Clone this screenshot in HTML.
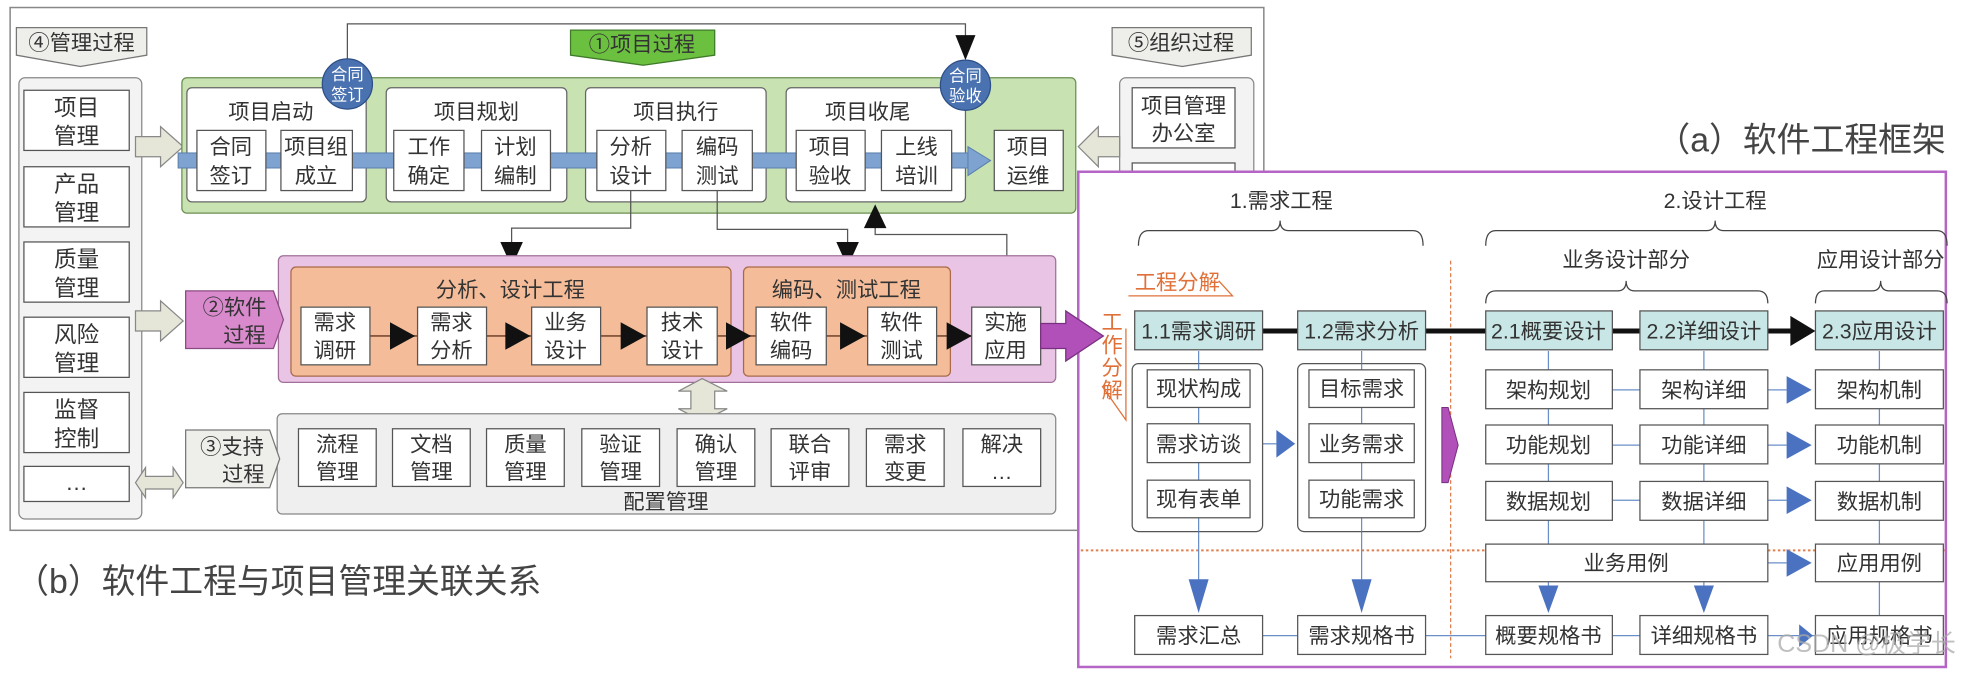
<!DOCTYPE html>
<html><head><meta charset="utf-8">
<style>
html,body{margin:0;padding:0;background:#fff;}
svg{display:block;}
text{font-family:"Liberation Sans","Noto Sans CJK SC",sans-serif;fill:#333;}
</style></head>
<body>
<svg width="1966" height="677" viewBox="0 0 1568 540" xmlns="http://www.w3.org/2000/svg">
<rect x="0" y="0" width="1568" height="540" fill="#fff"/>
<rect x="8" y="6" width="1000" height="417" fill="#fff" stroke="#888" stroke-width="1.2"/>

<polyline points="277,50 277,19 770,19 770,30" fill="none" stroke="#555" stroke-width="1"/>
<polygon points="762,28 778,28 770,48" fill="#111"/>

<polygon points="13,22 117,22 117,44 64,53 13,44" fill="#eeeeea" stroke="#777"/>
<text x="65" y="40" font-size="17" text-anchor="middle">④管理过程</text>
<polygon points="455,24 570,24 570,44 513,52 455,44" fill="#6cc040" stroke="#3f7a2a"/>
<text x="512" y="41" font-size="17" text-anchor="middle">①项目过程</text>
<polygon points="887,22 998,22 998,44 943,53 887,44" fill="#eeeeea" stroke="#777"/>
<text x="942" y="40" font-size="17" text-anchor="middle">⑤组织过程</text>

<rect x="15" y="62" width="98" height="352" rx="5" fill="#f3f3f3" stroke="#888"/>
<g fill="#fff" stroke="#555">
<rect x="19" y="72" width="84" height="48"/>
<rect x="19" y="133" width="84" height="48"/>
<rect x="19" y="193" width="84" height="48"/>
<rect x="19" y="253" width="84" height="48"/>
<rect x="19" y="313" width="84" height="48"/>
<rect x="19" y="372" width="84" height="28"/>
</g>
<g font-size="18" text-anchor="middle">
<text x="61" y="92">项目</text><text x="61" y="115">管理</text>
<text x="61" y="153">产品</text><text x="61" y="176">管理</text>
<text x="61" y="213">质量</text><text x="61" y="236">管理</text>
<text x="61" y="273">风险</text><text x="61" y="296">管理</text>
<text x="61" y="333">监督</text><text x="61" y="356">控制</text>
<text x="61" y="391">…</text>
</g>

<g fill="#e6e6d8" stroke="#888">
<polygon points="108,109 128,109 128,101 146,117 128,133 128,125 108,125"/>
<polygon points="108,248 128,248 128,240 146,256 128,272 128,264 108,264"/>
<polygon points="108,385 116,373 116,380 138,380 138,373 146,385 138,397 138,390 116,390 116,397"/>
</g>

<rect x="145" y="62" width="713" height="108" rx="4" fill="#c8e2b2" stroke="#6a8f50"/>
<g fill="#fff" stroke="#666">
<rect x="149" y="70" width="143" height="91" rx="4"/>
<rect x="308" y="70" width="144" height="91" rx="4"/>
<rect x="467" y="70" width="144" height="91" rx="4"/>
<rect x="627" y="70" width="143" height="91" rx="4"/>
</g>
<g font-size="17" text-anchor="middle">
<text x="216" y="95">项目启动</text>
<text x="380" y="95">项目规划</text>
<text x="539" y="95">项目执行</text>
<text x="692" y="95">项目收尾</text>
</g>
<rect x="142" y="122" width="632" height="12" fill="#7ea3d0" stroke="#5a7fae" stroke-width="0.8"/>
<polygon points="772,117 790,128 772,140" fill="#7ea3d0" stroke="#5a7fae" stroke-width="0.8"/>
<g fill="#fff" stroke="#555">
<rect x="157" y="104" width="55" height="48"/>
<rect x="224" y="104" width="57" height="48"/>
<rect x="314" y="104" width="56" height="48"/>
<rect x="384" y="104" width="55" height="48"/>
<rect x="476" y="104" width="55" height="48"/>
<rect x="544" y="104" width="56" height="48"/>
<rect x="635" y="104" width="55" height="48"/>
<rect x="703" y="104" width="56" height="48"/>
<rect x="793" y="104" width="55" height="48"/>
</g>
<g font-size="17" text-anchor="middle">
<text x="184" y="123">合同</text><text x="184" y="146">签订</text>
<text x="252" y="123">项目组</text><text x="252" y="146">成立</text>
<text x="342" y="123">工作</text><text x="342" y="146">确定</text>
<text x="411" y="123">计划</text><text x="411" y="146">编制</text>
<text x="503" y="123">分析</text><text x="503" y="146">设计</text>
<text x="572" y="123">编码</text><text x="572" y="146">测试</text>
<text x="662" y="123">项目</text><text x="662" y="146">验收</text>
<text x="731" y="123">上线</text><text x="731" y="146">培训</text>
<text x="820" y="123">项目</text><text x="820" y="146">运维</text>
</g>
<circle cx="277" cy="67" r="20" fill="#4a72b0" stroke="#2d4f86"/>
<circle cx="770" cy="68" r="20" fill="#4a72b0" stroke="#2d4f86"/>
<g font-size="13" text-anchor="middle">
<text x="277" y="64" style="fill:#fff">合同</text><text x="277" y="80" style="fill:#fff">签订</text>
<text x="770" y="65" style="fill:#fff">合同</text><text x="770" y="81" style="fill:#fff">验收</text>
</g>

<rect x="893" y="62" width="107" height="80" rx="5" fill="#f3f3f3" stroke="#888"/>
<rect x="903" y="70" width="82" height="48" fill="#fff" stroke="#555"/>
<rect x="903" y="130" width="82" height="20" fill="#fff" stroke="#555"/>
<text x="944" y="90" font-size="17" text-anchor="middle">项目管理</text>
<text x="944" y="112" font-size="17" text-anchor="middle">办公室</text>
<polygon points="893,109 876,109 876,101 860,117 876,133 876,125 893,125" fill="#e6e6d8" stroke="#888"/>

<g fill="none" stroke="#555" stroke-width="1">
<polyline points="503,152 503,182 408,182 408,195"/>
<polyline points="572,152 572,183 676,183 676,195"/>
<polyline points="803,245 803,187 698,187 698,180"/>
</g>
<polygon points="399,193 417,193 408,213" fill="#111"/>
<polygon points="667,193 685,193 676,213" fill="#111"/>
<polygon points="689,182 707,182 698,163" fill="#111"/>

<rect x="222" y="204" width="620" height="101" rx="4" fill="#e9c4e4" stroke="#a0709a"/>
<rect x="232" y="213" width="351" height="87" rx="4" fill="#f4bc98" stroke="#a86a4a"/>
<rect x="593" y="213" width="165" height="87" rx="4" fill="#f4bc98" stroke="#a86a4a"/>
<text x="407" y="237" font-size="17" text-anchor="middle">分析、设计工程</text>
<text x="675" y="237" font-size="17" text-anchor="middle">编码、测试工程</text>
<line x1="295" y1="268" x2="775" y2="268" stroke="#8a5a40" stroke-width="1.5"/>
<g fill="#111">
<polygon points="311,257 331,268 311,279"/>
<polygon points="403,257 423,268 403,279"/>
<polygon points="495,257 515,268 495,279"/>
<polygon points="579,257 599,268 579,279"/>
<polygon points="670,257 690,268 670,279"/>
<polygon points="755,257 775,268 755,279"/>
</g>
<g fill="#fff" stroke="#555">
<rect x="240" y="245" width="55" height="46"/>
<rect x="333" y="245" width="55" height="46"/>
<rect x="424" y="245" width="55" height="46"/>
<rect x="516" y="245" width="56" height="46"/>
<rect x="603" y="245" width="56" height="46"/>
<rect x="692" y="245" width="55" height="46"/>
<rect x="775" y="245" width="55" height="46"/>
</g>
<g font-size="17" text-anchor="middle">
<text x="267" y="263">需求</text><text x="267" y="285">调研</text>
<text x="360" y="263">需求</text><text x="360" y="285">分析</text>
<text x="451" y="263">业务</text><text x="451" y="285">设计</text>
<text x="544" y="263">技术</text><text x="544" y="285">设计</text>
<text x="631" y="263">软件</text><text x="631" y="285">编码</text>
<text x="719" y="263">软件</text><text x="719" y="285">测试</text>
<text x="802" y="263">实施</text><text x="802" y="285">应用</text>
</g>
<polygon points="148,232 218,232 226,255 218,278 148,278" fill="#d98acd" stroke="#8a4a80"/>
<text x="187" y="251" font-size="17" text-anchor="middle">②软件</text>
<text x="195" y="273" font-size="17" text-anchor="middle">过程</text>

<polygon points="560,302 580,312 570,312 570,326 580,326 560,336 541,326 551,326 551,312 541,312" fill="#e6e6d8" stroke="#888"/>

<rect x="221" y="330" width="621" height="80" rx="4" fill="#efefef" stroke="#888"/>
<g fill="#fff" stroke="#555">
<rect x="238" y="342" width="62" height="46"/>
<rect x="313" y="342" width="62" height="46"/>
<rect x="388" y="342" width="62" height="46"/>
<rect x="464" y="342" width="62" height="46"/>
<rect x="540" y="342" width="62" height="46"/>
<rect x="615" y="342" width="62" height="46"/>
<rect x="691" y="342" width="62" height="46"/>
<rect x="768" y="342" width="62" height="46"/>
</g>
<g font-size="17" text-anchor="middle">
<text x="269" y="360">流程</text><text x="269" y="382">管理</text>
<text x="344" y="360">文档</text><text x="344" y="382">管理</text>
<text x="419" y="360">质量</text><text x="419" y="382">管理</text>
<text x="495" y="360">验证</text><text x="495" y="382">管理</text>
<text x="571" y="360">确认</text><text x="571" y="382">管理</text>
<text x="646" y="360">联合</text><text x="646" y="382">评审</text>
<text x="722" y="360">需求</text><text x="722" y="382">变更</text>
<text x="799" y="360">解决</text><text x="799" y="382">…</text>
<text x="531" y="406">配置管理</text>
</g>
<polygon points="148,343 215,343 223,366 215,389 148,389" fill="#eeeeea" stroke="#777"/>
<text x="185" y="362" font-size="17" text-anchor="middle">③支持</text>
<text x="194" y="384" font-size="17" text-anchor="middle">过程</text>

<text x="12" y="473" font-size="27" style="fill:#444">（b）软件工程与项目管理关联关系</text>
<text x="1552" y="121" font-size="27" text-anchor="end" style="fill:#444">（a）软件工程框架</text>

<rect x="860" y="137" width="692" height="395" fill="#fff" stroke="#b565c5" stroke-width="2"/>
<polygon points="830,258 850,258 850,248 880,268 850,288 850,278 830,278" fill="#b050b8" stroke="#7a3080"/>

<g font-size="17" text-anchor="middle">
<text x="1022" y="166">1.需求工程</text>
<text x="1368" y="166">2.设计工程</text>
<text x="1297" y="213">业务设计部分</text>
<text x="1500" y="213">应用设计部分</text>
</g>
<g fill="none" stroke="#444" stroke-width="1">
<path d="M908,196 Q908,184 916,184 L1014,184 Q1021,184 1021,176 Q1021,184 1028,184 L1127,184 Q1135,184 1135,196"/>
<path d="M1185,196 Q1185,184 1193,184 L1361,184 Q1368,184 1368,176 Q1368,184 1375,184 L1545,184 Q1553,184 1553,196"/>
<path d="M1185,242 Q1185,232 1193,232 L1290,232 Q1297,232 1297,224 Q1297,232 1304,232 L1402,232 Q1410,232 1410,242"/>
<path d="M1448,242 Q1448,232 1455,232 L1493,232 Q1500,232 1500,224 Q1500,232 1507,232 L1545,232 Q1553,232 1553,242"/>
</g>
<line x1="1157" y1="208" x2="1157" y2="525" stroke="#e08050" stroke-width="1" stroke-dasharray="3,2"/>
<line x1="862" y1="439" x2="1551" y2="439" stroke="#e08050" stroke-width="1.5" stroke-dasharray="2,2"/>
<text x="905" y="231" font-size="17" style="fill:#e07038">工程分解</text>
<polyline points="900,236 983,236 972,224" fill="none" stroke="#e07038" stroke-width="1"/>
<g font-size="17" text-anchor="middle">
<text x="887" y="263" style="fill:#e07038">工</text>
<text x="887" y="281" style="fill:#e07038">作</text>
<text x="887" y="299" style="fill:#e07038">分</text>
<text x="887" y="317" style="fill:#e07038">解</text>
</g>
<polyline points="879,308 898,335 898,262" fill="none" stroke="#e07038" stroke-width="1"/>

<g stroke="#6a8fc8" stroke-width="1" fill="none">
<line x1="956" y1="280" x2="956" y2="470"/>
<line x1="1086" y1="280" x2="1086" y2="470"/>
<line x1="1235" y1="280" x2="1235" y2="434"/>
<line x1="1359" y1="280" x2="1359" y2="434"/>
<line x1="1499" y1="280" x2="1499" y2="491"/>
<line x1="1235" y1="463" x2="1235" y2="470"/>
<line x1="1359" y1="463" x2="1359" y2="470"/>
<line x1="1007" y1="507" x2="1448" y2="507"/>
<line x1="1286" y1="311" x2="1308" y2="311"/>
<line x1="1286" y1="355" x2="1308" y2="355"/>
<line x1="1286" y1="399" x2="1308" y2="399"/>
<line x1="1410" y1="311" x2="1425" y2="311"/>
<line x1="1410" y1="355" x2="1425" y2="355"/>
<line x1="1410" y1="399" x2="1425" y2="399"/>
<line x1="1410" y1="449" x2="1425" y2="449"/>
<line x1="1007" y1="354" x2="1018" y2="354"/>
</g>
<line x1="1007" y1="264" x2="1430" y2="264" stroke="#111" stroke-width="4"/>
<polygon points="1428,252 1448,264 1428,276" fill="#111"/>

<rect x="903" y="290" width="104" height="134" rx="5" fill="#fff" stroke="#555"/>
<rect x="1035" y="290" width="102" height="134" rx="5" fill="#fff" stroke="#555"/>
<line x1="956" y1="290" x2="956" y2="424" stroke="#6a8fc8"/>
<line x1="1086" y1="290" x2="1086" y2="424" stroke="#6a8fc8"/>

<g fill="#c9e6e6" stroke="#555">
<rect x="905" y="248" width="102" height="31"/>
<rect x="1035" y="248" width="102" height="31"/>
<rect x="1185" y="248" width="101" height="31"/>
<rect x="1308" y="248" width="102" height="31"/>
<rect x="1448" y="248" width="102" height="31"/>
</g>
<g fill="#fff" stroke="#555">
<rect x="915" y="295" width="82" height="30"/>
<rect x="915" y="338" width="82" height="31"/>
<rect x="915" y="383" width="82" height="30"/>
<rect x="1044" y="295" width="84" height="30"/>
<rect x="1044" y="338" width="84" height="31"/>
<rect x="1044" y="383" width="84" height="30"/>
<rect x="1185" y="295" width="101" height="31"/>
<rect x="1308" y="295" width="102" height="31"/>
<rect x="1448" y="295" width="102" height="31"/>
<rect x="1185" y="339" width="101" height="31"/>
<rect x="1308" y="339" width="102" height="31"/>
<rect x="1448" y="339" width="102" height="31"/>
<rect x="1185" y="384" width="101" height="31"/>
<rect x="1308" y="384" width="102" height="31"/>
<rect x="1448" y="384" width="102" height="31"/>
<rect x="1185" y="434" width="225" height="30"/>
<rect x="1448" y="434" width="102" height="30"/>
<rect x="905" y="491" width="102" height="31"/>
<rect x="1035" y="491" width="102" height="31"/>
<rect x="1185" y="491" width="101" height="31"/>
<rect x="1308" y="491" width="102" height="31"/>
<rect x="1448" y="491" width="102" height="31"/>
</g>
<g font-size="17" text-anchor="middle">
<text x="956" y="270">1.1需求调研</text>
<text x="1086" y="270">1.2需求分析</text>
<text x="1235" y="270">2.1概要设计</text>
<text x="1359" y="270">2.2详细设计</text>
<text x="1499" y="270">2.3应用设计</text>
<text x="956" y="316">现状构成</text>
<text x="956" y="360">需求访谈</text>
<text x="956" y="404">现有表单</text>
<text x="1086" y="316">目标需求</text>
<text x="1086" y="360">业务需求</text>
<text x="1086" y="404">功能需求</text>
<text x="1235" y="317">架构规划</text>
<text x="1359" y="317">架构详细</text>
<text x="1499" y="317">架构机制</text>
<text x="1235" y="361">功能规划</text>
<text x="1359" y="361">功能详细</text>
<text x="1499" y="361">功能机制</text>
<text x="1235" y="406">数据规划</text>
<text x="1359" y="406">数据详细</text>
<text x="1499" y="406">数据机制</text>
<text x="1297" y="455">业务用例</text>
<text x="1499" y="455">应用用例</text>
<text x="956" y="513">需求汇总</text>
<text x="1086" y="513">需求规格书</text>
<text x="1235" y="513">概要规格书</text>
<text x="1359" y="513">详细规格书</text>
<text x="1499" y="513">应用规格书</text>
</g>
<g fill="#4a72c0">
<polygon points="1018,343 1033,354 1018,365"/>
<polygon points="1425,300 1445,311 1425,322"/>
<polygon points="1425,344 1445,355 1425,366"/>
<polygon points="1425,388 1445,399 1425,410"/>
<polygon points="1425,438 1445,449 1425,460"/>
<polygon points="1435,498 1446,507 1435,516"/>
<polygon points="948,462 964,462 956,489"/>
<polygon points="1078,462 1094,462 1086,489"/>
<polygon points="1227,467 1243,467 1235,489"/>
<polygon points="1351,467 1367,467 1359,489"/>
</g>
<polygon points="1150,325 1155,325 1163,355 1155,385 1150,385" fill="#b050b8" stroke="#7a3080" stroke-width="0.8"/>
<text x="1560" y="520" font-size="20" text-anchor="end" style="fill:#aaa;opacity:0.75">CSDN @极学长</text>
</svg>
</body></html>
